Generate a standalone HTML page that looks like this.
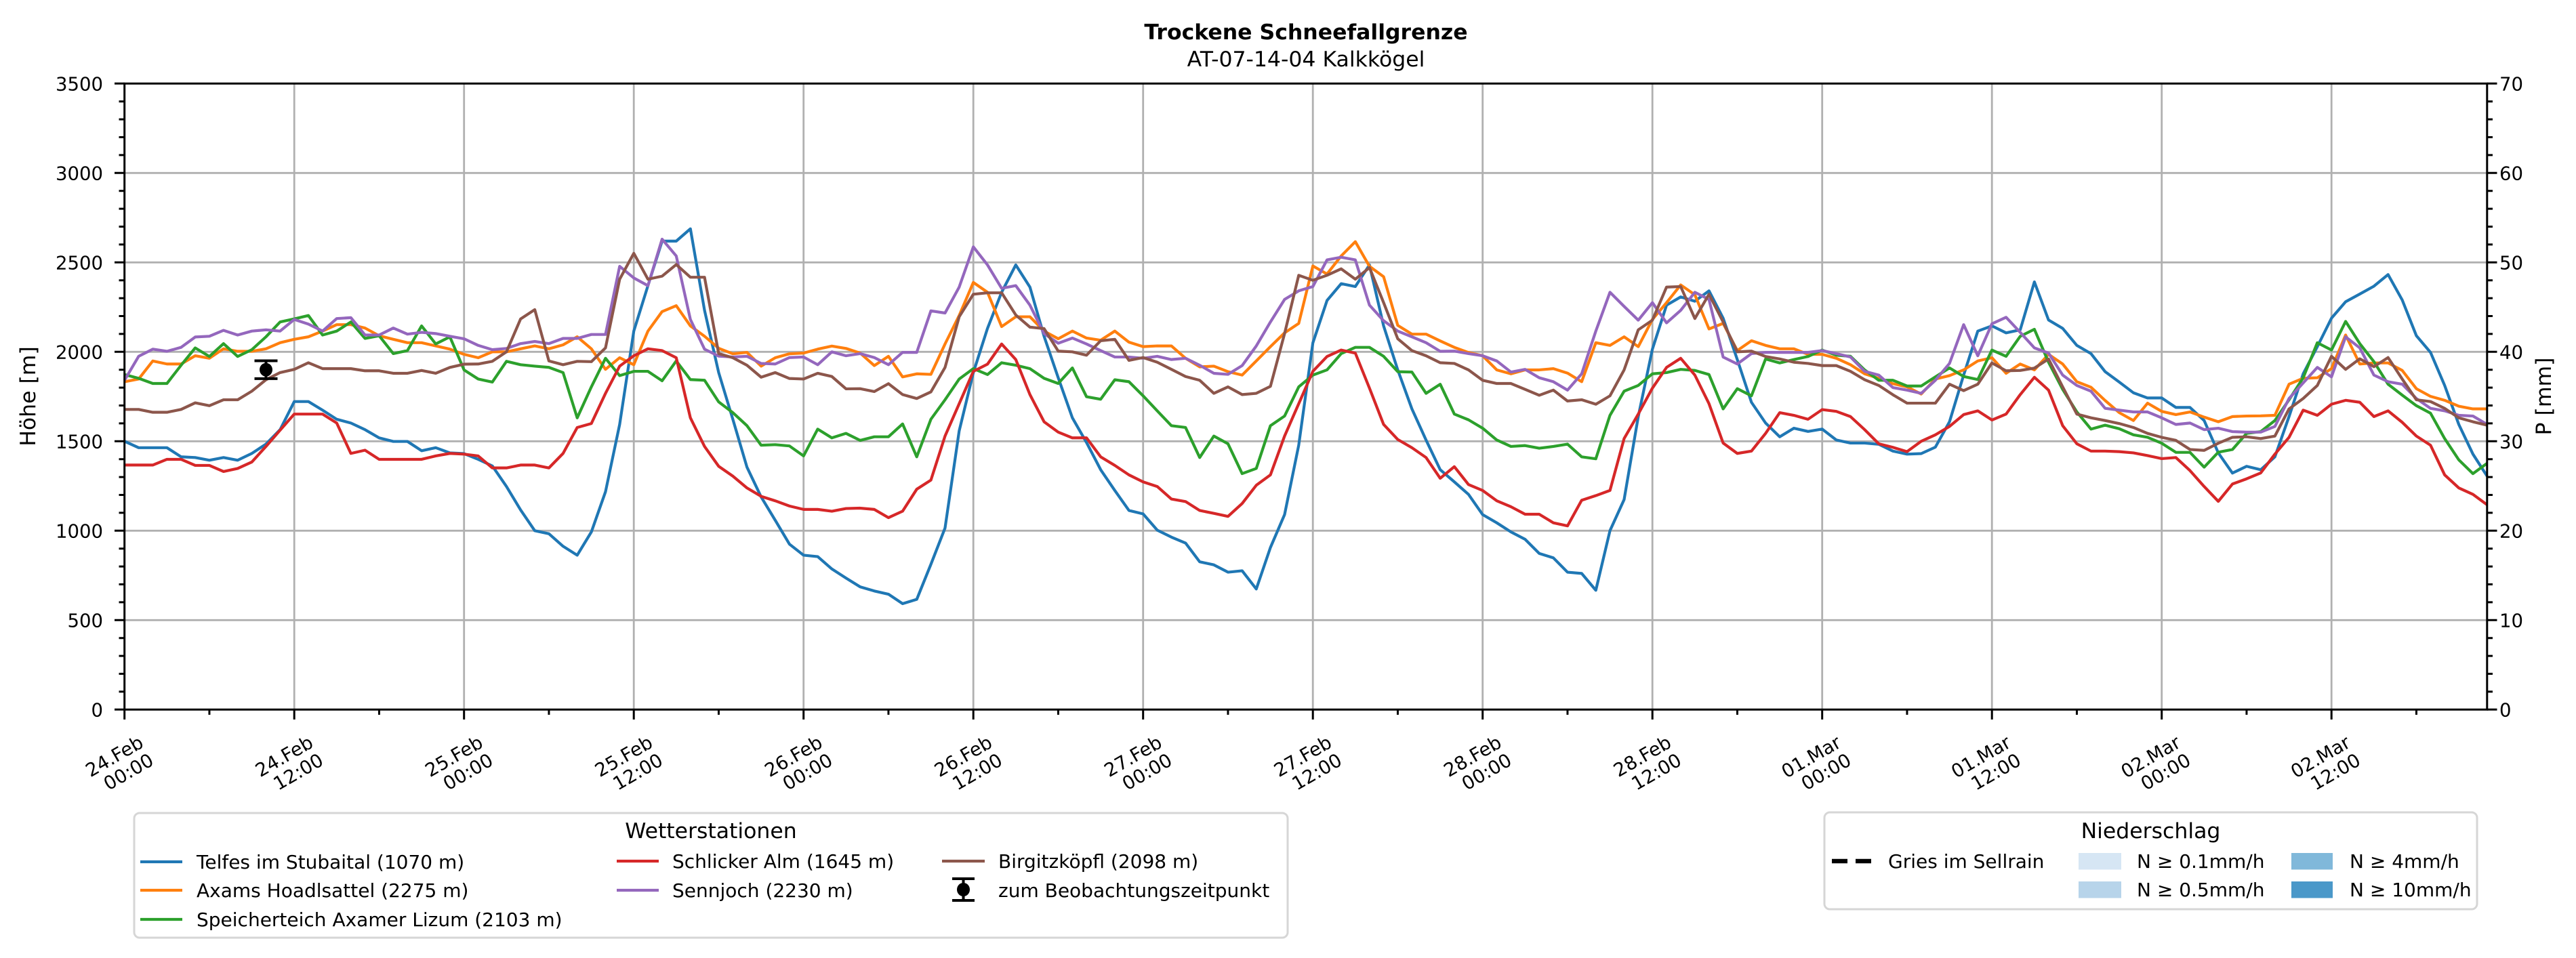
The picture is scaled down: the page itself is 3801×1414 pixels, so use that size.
<!DOCTYPE html>
<html><head><meta charset="utf-8"><style>
html,body{margin:0;padding:0;background:#fff;}
svg{display:block;font-family:"DejaVu Sans","Liberation Sans",sans-serif;}
</style></head><body>
<svg width="3801" height="1414" viewBox="0 0 3801 1414" xmlns="http://www.w3.org/2000/svg">
<rect x="0" y="0" width="3801" height="1414" fill="#fff"/>
<!-- title -->
<text x="1927" y="58" font-size="31.5" font-weight="bold" text-anchor="middle">Trockene Schneefallgrenze</text>
<text x="1927" y="98" font-size="31.5" text-anchor="middle">AT-07-14-04 Kalkkögel</text>
<!-- grid -->
<g stroke="#b0b0b0" stroke-width="2.8" fill="none">
<path d="M434.2 123.3V1047.3M684.7 123.3V1047.3M935.2 123.3V1047.3M1185.7 123.3V1047.3M1436.2 123.3V1047.3M1686.7 123.3V1047.3M1937.2 123.3V1047.3M2187.7 123.3V1047.3M2438.2 123.3V1047.3M2688.7 123.3V1047.3M2939.2 123.3V1047.3M3189.7 123.3V1047.3M3440.2 123.3V1047.3"/>
<path d="M183.7 915.3H3669.8M183.7 783.3H3669.8M183.7 651.3H3669.8M183.7 519.3H3669.8M183.7 387.3H3669.8M183.7 255.3H3669.8"/>
</g>
<!-- series -->
<g fill="none" stroke-width="4.2" stroke-linejoin="round" transform="matrix(20.875 0 0 -0.264 183.7 1047.3)">
<polyline vector-effect="non-scaling-stroke" stroke="#1f77b4" points="0,1500 1,1464 2,1464 3,1464 4,1413 5,1409 6,1394 7,1409 8,1394 9,1432 10,1484 11,1565 12,1722 13,1722 14,1674 15,1623 16,1602 17,1565 18,1519 19,1499 20,1499 21,1447 22,1464 23,1435 24,1431 25,1399 26,1362 27,1247 28,1116 29,1000 30,983 31,913 32,863 33,993 34,1218 35,1594 36,2116 37,2370 38,2619 39,2619 40,2688 41,2232 42,1884 43,1623 44,1355 45,1189 46,1058 47,925 48,863 49,855 50,786 51,735 52,686 53,663 54,645 55,592 56,616 57,812 58,1015 59,1558 60,1884 61,2131 62,2333 63,2486 64,2362 65,2087 66,1855 67,1631 68,1493 69,1341 70,1225 71,1113 72,1094 73,1003 74,964 75,931 76,826 77,809 78,768 79,776 80,674 81,906 82,1090 83,1478 84,2050 85,2287 86,2381 87,2365 88,2486 89,2145 90,1899 91,1681 92,1507 93,1341 94,1273 95,1203 96,1090 97,1044 98,993 99,952 100,873 101,848 102,768 103,761 104,667 105,1000 106,1174 107,1638 108,2015 109,2261 110,2307 111,2283 112,2341 113,2188 114,1957 115,1718 116,1602 117,1525 118,1573 119,1555 120,1568 121,1507 122,1490 123,1490 124,1483 125,1445 126,1428 127,1431 128,1467 129,1609 130,1870 131,2116 132,2145 133,2106 134,2123 135,2391 136,2178 137,2131 138,2036 139,1990 140,1889 141,1831 142,1771 143,1742 144,1742 145,1689 146,1689 147,1616 148,1435 149,1322 150,1360 151,1341 152,1413 153,1638 154,1877 155,2029 156,2188 157,2280 158,2323 159,2367 160,2432 161,2290 162,2090 163,1997 164,1812 165,1594 166,1428 167,1305"/>
<polyline vector-effect="non-scaling-stroke" stroke="#ff7f0e" points="0,1833 1,1848 2,1949 3,1932 4,1932 5,1978 6,1964 7,2017 8,2003 9,2003 10,2017 11,2051 12,2070 13,2084 14,2116 15,2152 16,2152 17,2133 18,2090 19,2070 20,2051 21,2051 22,2033 23,2015 24,1986 25,1967 26,2000 27,2000 28,2017 29,2033 30,2017 31,2039 32,2084 33,2017 34,1902 35,1967 36,1928 37,2116 38,2225 39,2258 40,2145 41,2087 42,2020 43,1989 44,1997 45,1920 46,1967 47,1989 48,1993 49,2015 50,2032 51,2019 52,1993 53,1923 54,1975 55,1860 56,1877 57,1874 58,2044 59,2203 60,2388 61,2333 62,2141 63,2196 64,2196 65,2116 66,2073 67,2116 68,2077 69,2065 70,2116 71,2054 72,2029 73,2033 74,2033 75,1964 76,1916 77,1920 78,1889 79,1870 80,1949 81,2029 82,2106 83,2159 84,2480 85,2435 86,2536 87,2616 88,2478 89,2420 90,2148 91,2099 92,2099 93,2061 94,2025 95,1996 96,1978 97,1899 98,1877 99,1899 100,1899 101,1906 102,1881 103,1833 104,2051 105,2036 106,2084 107,2029 108,2181 109,2275 110,2374 111,2319 112,2128 113,2159 114,2007 115,2062 116,2036 117,2017 118,2017 119,1986 120,1986 121,1964 122,1928 123,1877 124,1852 125,1822 126,1804 127,1764 128,1848 129,1867 130,1899 131,1949 132,1967 133,1880 134,1932 135,1899 136,1986 137,1932 138,1833 139,1802 140,1728 141,1660 142,1616 143,1713 144,1667 145,1649 146,1664 147,1635 148,1609 149,1638 150,1641 151,1642 152,1645 153,1819 154,1852 155,1855 156,1906 157,2094 158,1932 159,1938 160,1938 161,1896 162,1794 163,1751 164,1729 165,1696 166,1681 167,1681"/>
<polyline vector-effect="non-scaling-stroke" stroke="#2ca02c" points="0,1873 1,1852 2,1823 3,1823 4,1925 5,2022 6,1974 7,2046 8,1974 9,2012 10,2084 11,2167 12,2184 13,2203 14,2094 15,2116 16,2167 17,2075 18,2090 19,1990 20,2007 21,2145 22,2044 23,2084 24,1899 25,1848 26,1831 27,1947 28,1928 29,1920 30,1913 31,1884 32,1631 33,1804 34,1964 35,1867 36,1891 37,1891 38,1838 39,1949 40,1845 41,1841 42,1720 43,1660 44,1587 45,1478 46,1481 47,1474 48,1418 49,1568 50,1519 51,1544 52,1505 53,1525 54,1525 55,1597 56,1413 57,1623 58,1732 59,1848 60,1906 61,1873 62,1939 63,1925 64,1906 65,1852 66,1823 67,1910 68,1749 69,1735 70,1844 71,1833 72,1754 73,1670 74,1587 75,1577 76,1409 77,1529 78,1486 79,1319 80,1348 81,1587 82,1641 83,1804 84,1870 85,1899 86,1990 87,2025 88,2025 89,1975 90,1889 91,1887 92,1768 93,1819 94,1652 95,1620 96,1573 97,1507 98,1471 99,1476 100,1461 101,1471 102,1484 103,1413 104,1402 105,1645 106,1780 107,1812 108,1877 109,1884 110,1902 111,1896 112,1873 113,1681 114,1794 115,1754 116,1960 117,1938 118,1957 119,1974 120,2010 121,1981 122,1975 123,1899 124,1841 125,1841 126,1809 127,1809 128,1860 129,1910 130,1862 131,1845 132,2010 133,1975 134,2087 135,2126 136,1942 137,1790 138,1664 139,1568 140,1590 141,1570 142,1536 143,1522 144,1489 145,1438 146,1438 147,1355 148,1439 149,1454 150,1544 151,1554 152,1616 153,1732 154,1855 155,2051 156,2010 157,2170 158,2046 159,1945 160,1819 161,1758 162,1699 163,1657 164,1515 165,1396 166,1319 167,1377"/>
<polyline vector-effect="non-scaling-stroke" stroke="#d62728" points="0,1367 1,1367 2,1367 3,1399 4,1399 5,1365 6,1365 7,1331 8,1348 9,1384 10,1471 11,1562 12,1652 13,1652 14,1652 15,1602 16,1432 17,1450 18,1399 19,1399 20,1399 21,1399 22,1418 23,1432 24,1428 25,1418 26,1351 27,1351 28,1367 29,1367 30,1351 31,1432 32,1577 33,1599 34,1768 35,1920 36,1978 37,2017 38,2007 39,1967 40,1631 41,1471 42,1360 43,1305 44,1239 45,1192 46,1167 47,1138 48,1119 49,1119 50,1109 51,1124 52,1126 53,1119 54,1073 55,1109 56,1232 57,1283 58,1529 59,1710 60,1891 61,1931 62,2044 63,1957 64,1761 65,1609 66,1551 67,1519 68,1519 69,1413 70,1365 71,1312 72,1273 73,1247 74,1177 75,1163 76,1113 77,1097 78,1080 79,1152 80,1254 81,1312 82,1529 83,1710 84,1891 85,1974 86,2010 87,1993 88,1797 89,1594 90,1510 91,1464 92,1409 93,1293 94,1358 95,1258 96,1225 97,1167 98,1134 99,1092 100,1092 101,1044 102,1027 103,1170 104,1196 105,1225 106,1515 107,1652 108,1797 109,1913 110,1964 111,1870 112,1710 113,1490 114,1432 115,1445 116,1544 117,1660 118,1645 119,1623 120,1677 121,1667 122,1638 123,1565 124,1486 125,1466 126,1442 127,1500 128,1536 129,1583 130,1649 131,1670 132,1619 133,1652 134,1761 135,1858 136,1786 137,1587 138,1486 139,1445 140,1445 141,1442 142,1435 143,1420 144,1403 145,1409 146,1336 147,1247 148,1164 149,1261 150,1290 151,1323 152,1428 153,1522 154,1674 155,1645 156,1707 157,1729 158,1718 159,1638 160,1670 161,1606 162,1529 163,1478 164,1312 165,1239 166,1203 167,1145"/>
<polyline vector-effect="non-scaling-stroke" stroke="#9467bd" points="0,1841 1,1975 2,2015 3,2003 4,2025 5,2083 6,2087 7,2120 8,2094 9,2116 10,2123 11,2116 12,2181 13,2155 14,2116 15,2186 16,2191 17,2094 18,2094 19,2133 20,2099 21,2109 22,2102 23,2087 24,2073 25,2036 26,2012 27,2019 28,2046 29,2058 30,2046 31,2075 32,2075 33,2097 34,2097 35,2478 36,2413 37,2370 38,2630 39,2536 40,2181 41,2015 42,1976 43,1971 44,1975 45,1935 46,1932 47,1968 48,1971 49,1928 50,2000 51,1978 52,1990 53,1968 54,1928 55,1997 56,1997 57,2229 58,2217 59,2362 60,2587 61,2486 62,2355 63,2370 64,2261 65,2102 66,2048 67,2077 68,2044 69,2007 70,1971 71,1971 72,1964 73,1975 74,1957 75,1964 76,1925 77,1880 78,1874 79,1923 80,2033 81,2167 82,2293 83,2341 84,2365 85,2514 86,2529 87,2514 88,2261 89,2174 90,2116 91,2084 92,2051 93,2003 94,2004 95,1990 96,1978 97,1949 98,1887 99,1902 100,1855 101,1833 102,1786 103,1877 104,2116 105,2333 106,2254 107,2177 108,2275 109,2162 110,2232 111,2333 112,2293 113,1971 114,1932 115,1990 116,1997 117,1997 118,1997 119,1997 120,2007 121,1990 122,1971 123,1891 124,1870 125,1800 126,1786 127,1768 128,1841 129,1935 130,2152 131,1978 132,2157 133,2193 134,2109 135,2022 136,1993 137,1870 138,1812 139,1780 140,1684 141,1674 142,1664 143,1664 144,1631 145,1594 146,1602 147,1565 148,1573 149,1554 150,1551 151,1551 152,1583 153,1739 154,1826 155,1913 156,1860 157,2084 158,2022 159,1870 160,1833 161,1819 162,1739 163,1684 164,1670 165,1645 166,1641 167,1594"/>
<polyline vector-effect="non-scaling-stroke" stroke="#8c564b" points="0,1678 1,1678 2,1662 3,1662 4,1678 5,1715 6,1699 7,1732 8,1732 9,1780 10,1844 11,1884 12,1902 13,1939 14,1906 15,1906 16,1906 17,1894 18,1894 19,1880 20,1880 21,1896 22,1880 23,1913 24,1931 25,1932 26,1947 27,2000 28,2184 29,2236 30,1949 31,1928 32,1947 33,1945 34,2022 35,2406 36,2551 37,2406 38,2423 39,2488 40,2417 41,2417 42,1990 43,1967 44,1925 45,1858 46,1884 47,1851 48,1848 49,1880 50,1862 51,1793 52,1794 53,1778 54,1822 55,1761 56,1739 57,1776 58,1913 59,2196 60,2322 61,2330 62,2330 63,2206 64,2138 65,2130 66,2004 67,2000 68,1981 69,2062 70,2070 71,1952 72,1968 73,1942 74,1902 75,1862 76,1841 77,1768 78,1804 79,1761 80,1768 81,1807 82,2102 83,2428 84,2400 85,2428 86,2464 87,2406 88,2471 89,2275 90,2073 91,2007 92,1978 93,1939 94,1935 95,1899 96,1841 97,1823 98,1823 99,1790 100,1757 101,1786 102,1725 103,1732 104,1707 105,1754 106,1899 107,2123 108,2177 109,2362 110,2365 111,2186 112,2322 113,2167 114,2000 115,2004 116,1974 117,1960 118,1942 119,1935 120,1923 121,1923 122,1891 123,1844 124,1812 125,1760 126,1713 127,1713 128,1713 129,1819 130,1783 131,1819 132,1938 133,1894 134,1896 135,1909 136,1960 137,1804 138,1652 139,1631 140,1616 141,1599 142,1577 143,1544 144,1522 145,1505 146,1454 147,1449 148,1489 149,1522 150,1525 151,1515 152,1529 153,1681 154,1739 155,1812 156,1975 157,1902 158,1961 159,1917 160,1968 161,1848 162,1732 163,1722 164,1684 165,1631 166,1609 167,1590"/>
</g>
<!-- observation error bar -->
<g stroke="#000" stroke-width="4" fill="none">
<path d="M392.5 532.5V558.9M375.5 532.5H409.5M375.5 558.9H409.5"/>
</g>
<ellipse cx="392.5" cy="545.7" rx="9.5" ry="10" fill="#000"/>
<!-- spines -->
<rect x="183.7" y="123.3" width="3486.1" height="924" fill="none" stroke="#000" stroke-width="3"/>
<!-- ticks -->
<g stroke="#000" stroke-width="3" fill="none">
<path d="M169 1047.3H183.7M169 915.3H183.7M169 783.3H183.7M169 651.3H183.7M169 519.3H183.7M169 387.3H183.7M169 255.3H183.7M169 123.3H183.7"/>
<path d="M175.5 1020.9H183.7M175.5 994.5H183.7M175.5 968.1H183.7M175.5 941.7H183.7M175.5 888.9H183.7M175.5 862.5H183.7M175.5 836.1H183.7M175.5 809.7H183.7M175.5 756.9H183.7M175.5 730.5H183.7M175.5 704.1H183.7M175.5 677.7H183.7M175.5 624.9H183.7M175.5 598.5H183.7M175.5 572.1H183.7M175.5 545.7H183.7M175.5 492.9H183.7M175.5 466.5H183.7M175.5 440.1H183.7M175.5 413.7H183.7M175.5 360.9H183.7M175.5 334.5H183.7M175.5 308.1H183.7M175.5 281.7H183.7M175.5 228.9H183.7M175.5 202.5H183.7M175.5 176.1H183.7M175.5 149.7H183.7"/>
<path d="M3669.8 1047.3H3684.5M3669.8 915.3H3684.5M3669.8 783.3H3684.5M3669.8 651.3H3684.5M3669.8 519.3H3684.5M3669.8 387.3H3684.5M3669.8 255.3H3684.5M3669.8 123.3H3684.5"/>
<path d="M3669.8 1020.9H3678M3669.8 994.5H3678M3669.8 968.1H3678M3669.8 941.7H3678M3669.8 888.9H3678M3669.8 862.5H3678M3669.8 836.1H3678M3669.8 809.7H3678M3669.8 756.9H3678M3669.8 730.5H3678M3669.8 704.1H3678M3669.8 677.7H3678M3669.8 624.9H3678M3669.8 598.5H3678M3669.8 572.1H3678M3669.8 545.7H3678M3669.8 492.9H3678M3669.8 466.5H3678M3669.8 440.1H3678M3669.8 413.7H3678M3669.8 360.9H3678M3669.8 334.5H3678M3669.8 308.1H3678M3669.8 281.7H3678M3669.8 228.9H3678M3669.8 202.5H3678M3669.8 176.1H3678M3669.8 149.7H3678"/>
<path d="M183.7 1047.3V1062M434.2 1047.3V1062M684.7 1047.3V1062M935.2 1047.3V1062M1185.7 1047.3V1062M1436.2 1047.3V1062M1686.7 1047.3V1062M1937.2 1047.3V1062M2187.7 1047.3V1062M2438.2 1047.3V1062M2688.7 1047.3V1062M2939.2 1047.3V1062M3189.7 1047.3V1062M3440.2 1047.3V1062"/>
<path d="M308.95 1047.3V1055M559.45 1047.3V1055M809.95 1047.3V1055M1060.45 1047.3V1055M1310.95 1047.3V1055M1561.45 1047.3V1055M1811.95 1047.3V1055M2062.45 1047.3V1055M2312.95 1047.3V1055M2563.45 1047.3V1055M2813.95 1047.3V1055M3064.45 1047.3V1055M3314.95 1047.3V1055M3565.45 1047.3V1055"/>
</g>
<!-- left tick labels -->
<g font-size="27.5" text-anchor="end" fill="#000">
<text x="152" y="1057.3">0</text>
<text x="152" y="925.3">500</text>
<text x="152" y="793.3">1000</text>
<text x="152" y="661.3">1500</text>
<text x="152" y="529.3">2000</text>
<text x="152" y="397.3">2500</text>
<text x="152" y="265.3">3000</text>
<text x="152" y="133.3">3500</text>
</g>
<!-- right tick labels -->
<g font-size="27.5" text-anchor="start" fill="#000">
<text x="3688" y="1057.3">0</text>
<text x="3688" y="925.3">10</text>
<text x="3688" y="793.3">20</text>
<text x="3688" y="661.3">30</text>
<text x="3688" y="529.3">40</text>
<text x="3688" y="397.3">50</text>
<text x="3688" y="265.3">60</text>
<text x="3688" y="133.3">70</text>
</g>
<!-- axis labels -->
<text x="52" y="585" font-size="31.5" text-anchor="middle" transform="rotate(-90 52 585)">Höhe [m]</text>
<text x="3764" y="585" font-size="31.5" text-anchor="middle" transform="rotate(-90 3764 585)">P [mm]</text>
<!-- x tick labels -->
<g font-size="27.5" text-anchor="end" fill="#000">
<g transform="translate(178.7 1127) rotate(-30)"><text x="43" y="-4.7">24.Feb</text><text x="43" y="25.5">00:00</text></g>
<g transform="translate(429.2 1127) rotate(-30)"><text x="43" y="-4.7">24.Feb</text><text x="43" y="25.5">12:00</text></g>
<g transform="translate(679.7 1127) rotate(-30)"><text x="43" y="-4.7">25.Feb</text><text x="43" y="25.5">00:00</text></g>
<g transform="translate(930.2 1127) rotate(-30)"><text x="43" y="-4.7">25.Feb</text><text x="43" y="25.5">12:00</text></g>
<g transform="translate(1180.7 1127) rotate(-30)"><text x="43" y="-4.7">26.Feb</text><text x="43" y="25.5">00:00</text></g>
<g transform="translate(1431.2 1127) rotate(-30)"><text x="43" y="-4.7">26.Feb</text><text x="43" y="25.5">12:00</text></g>
<g transform="translate(1681.7 1127) rotate(-30)"><text x="43" y="-4.7">27.Feb</text><text x="43" y="25.5">00:00</text></g>
<g transform="translate(1932.2 1127) rotate(-30)"><text x="43" y="-4.7">27.Feb</text><text x="43" y="25.5">12:00</text></g>
<g transform="translate(2182.7 1127) rotate(-30)"><text x="43" y="-4.7">28.Feb</text><text x="43" y="25.5">00:00</text></g>
<g transform="translate(2433.2 1127) rotate(-30)"><text x="43" y="-4.7">28.Feb</text><text x="43" y="25.5">12:00</text></g>
<g transform="translate(2683.7 1127) rotate(-30)"><text x="43" y="-4.7">01.Mar</text><text x="43" y="25.5">00:00</text></g>
<g transform="translate(2934.2 1127) rotate(-30)"><text x="43" y="-4.7">01.Mar</text><text x="43" y="25.5">12:00</text></g>
<g transform="translate(3184.7 1127) rotate(-30)"><text x="43" y="-4.7">02.Mar</text><text x="43" y="25.5">00:00</text></g>
<g transform="translate(3435.2 1127) rotate(-30)"><text x="43" y="-4.7">02.Mar</text><text x="43" y="25.5">12:00</text></g>
</g>
<!-- legend 1 -->
<rect x="198" y="1200" width="1702" height="184" rx="8" ry="8" fill="#fff" stroke="#d6d6d6" stroke-width="3"/>
<text x="1049" y="1237" font-size="31.5" text-anchor="middle">Wetterstationen</text>
<g stroke-width="4.2" fill="none">
<path d="M207 1272H269" stroke="#1f77b4"/>
<path d="M207 1314H269" stroke="#ff7f0e"/>
<path d="M207 1357H269" stroke="#2ca02c"/>
<path d="M910 1271H972" stroke="#d62728"/>
<path d="M910 1314H972" stroke="#9467bd"/>
<path d="M1390 1271H1453" stroke="#8c564b"/>
</g>
<g stroke="#000" stroke-width="4" fill="none"><path d="M1421.5 1297V1329M1405 1297H1438M1405 1329H1438"/></g>
<ellipse cx="1421.5" cy="1313" rx="9.5" ry="10" fill="#000"/>
<g font-size="28" fill="#000">
<text x="290" y="1282">Telfes im Stubaital (1070 m)</text>
<text x="290" y="1324">Axams Hoadlsattel (2275 m)</text>
<text x="290" y="1367">Speicherteich Axamer Lizum (2103 m)</text>
<text x="992" y="1281">Schlicker Alm (1645 m)</text>
<text x="992" y="1324">Sennjoch (2230 m)</text>
<text x="1473" y="1281">Birgitzköpfl (2098 m)</text>
<text x="1473" y="1324">zum Beobachtungszeitpunkt</text>
</g>
<!-- legend 2 -->
<rect x="2692" y="1199" width="963" height="143" rx="8" ry="8" fill="#fff" stroke="#d6d6d6" stroke-width="3"/>
<text x="3173.5" y="1237" font-size="31.5" text-anchor="middle">Niederschlag</text>
<path d="M2703 1271H2761" stroke="#000" stroke-width="6.5" stroke-dasharray="23 12" fill="none"/>
<rect x="3067" y="1259" width="63" height="24.5" fill="#d6e6f4"/>
<rect x="3067" y="1301" width="63" height="24.5" fill="#b7d4ea"/>
<rect x="3381" y="1259" width="61" height="24.5" fill="#80b8da"/>
<rect x="3381" y="1301" width="61" height="24.5" fill="#4a98c9"/>
<g font-size="28" fill="#000">
<text x="2786" y="1281">Gries im Sellrain</text>
<text x="3153" y="1281">N ≥ 0.1mm/h</text>
<text x="3153" y="1323">N ≥ 0.5mm/h</text>
<text x="3467" y="1281">N ≥ 4mm/h</text>
<text x="3467" y="1323">N ≥ 10mm/h</text>
</g>
</svg>
</body></html>
